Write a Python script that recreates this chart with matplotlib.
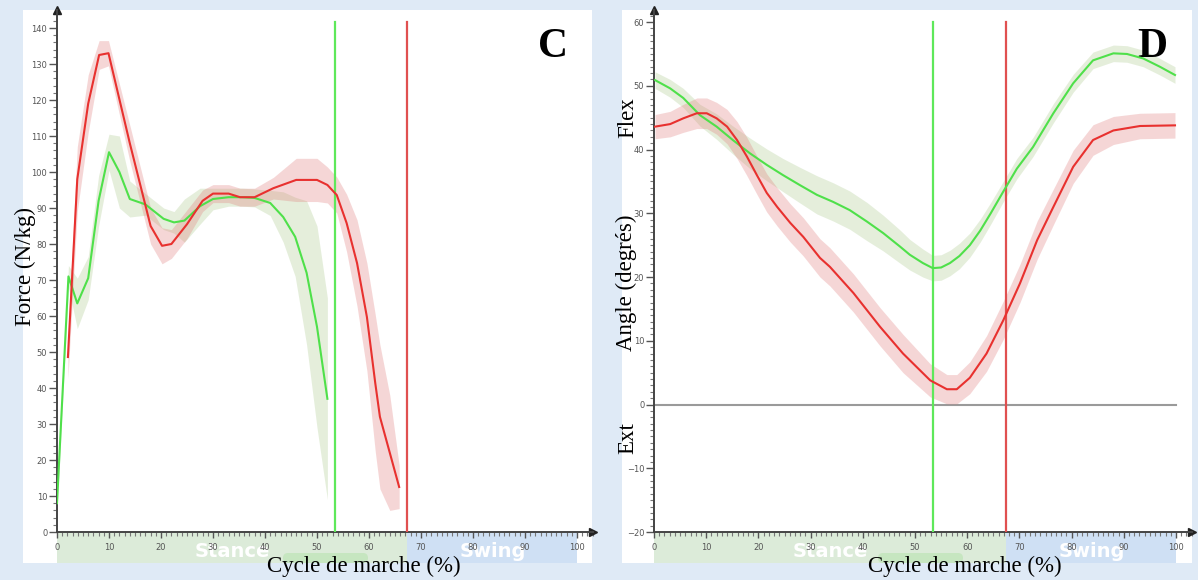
import numpy as np
import matplotlib
matplotlib.use("Agg")
from matplotlib import pyplot as plt
from matplotlib.patches import Rectangle, FancyBboxPatch
from matplotlib.transforms import IdentityTransform
from matplotlib.ticker import MultipleLocator

# Panel C - ground reaction force (N/kg), % of gait cycle
force_green_x = [0, 2.2, 3.9, 6, 8, 10, 12, 14, 17, 20.5, 22.5, 24.5, 27.5, 30, 33, 35.6, 38, 41, 43.5, 45.8, 48, 50, 52]
force_green_m = [8, 71, 63.5, 70.5, 92, 105.5, 100, 92.5, 91, 87, 86, 86.5, 90.5, 92.5, 93, 93, 92.8, 91.4, 87.5, 82, 72, 57, 37]
force_green_sd = [2, 3, 7, 6, 7, 5, 10, 5, 3, 3, 3, 6, 5, 3, 2.5, 2.5, 2.5, 3.5, 7, 11, 20, 28, 28]

force_red_x = [2.1, 3.9, 6, 8.1, 9.9, 14, 18, 20.2, 22, 25, 28, 30, 33, 35.2, 38, 41.6, 46, 50, 52, 53.8, 55.7, 57.7, 59.6, 61.2, 62.1, 64, 65.8]
force_red_m = [48.6, 98, 119, 132.5, 133, 108, 85, 79.5, 80, 85.5, 92, 94, 94, 93, 93, 95.5, 97.8, 97.8, 96.4, 93.6, 85.8, 74.7, 59.7, 41.4, 32, 22, 12.5]
force_red_sd = [6, 9, 8, 4, 3.5, 5, 5, 5, 4, 4, 3, 2.5, 2.5, 2.5, 2.5, 3, 6, 6, 5, 5, 8, 12, 15, 19, 20, 16, 6]

# Panel D - joint angle (degrees)
angle_green_x = [0.2, 3.1, 5.6, 8.8, 12, 15.1, 18.4, 21.6, 24.7, 28, 31.2, 34.3, 37.5, 40.8, 43.9, 47.1, 49, 51.5,
                 53.4, 55, 56.7, 58.5, 60.5, 62.5, 64.5, 66.9, 69.5, 72.6, 76.5, 80.3, 84.1, 88, 90.6, 93.7, 96.9, 99.8]
angle_green_m = [50.9, 49.6, 48.1, 45.4, 43.6, 41.5, 39.4, 37.6, 36, 34.4, 32.9, 31.8, 30.5, 28.7, 26.9, 24.8, 23.5, 22.2,
                 21.4, 21.5, 22.2, 23.3, 25, 27.3, 30, 33.4, 37, 40.4, 45.7, 50.4, 54, 55.1, 55, 54.3, 53, 51.7]
angle_green_sd = [1.3, 1.4, 1.5, 1.7, 2, 2.2, 2.4, 2.5, 2.6, 2.8, 3, 3, 3, 3, 2.8, 2.6, 2.4, 2.2,
                  2, 2, 2, 2, 1.9, 1.8, 1.7, 1.6, 1.6, 1.5, 1.5, 1.4, 1.3, 1.3, 1.3, 1.3, 1.3, 1.3]

angle_red_x = [0.2, 3.1, 5.6, 8.2, 10.1, 12, 14, 15.9, 17.8, 19.7, 21.6, 23.6, 26.1, 28.6, 31.8, 33.7, 38.2,
               43.3, 47.7, 52.9, 56.1, 58, 60.5, 63.7, 66.9, 70.1, 73.4, 76.5, 80.3, 84.1, 88, 93.1, 99.8]
angle_red_m = [43.6, 44, 44.9, 45.7, 45.7, 44.9, 43.6, 41.5, 38.9, 36, 33.2, 31, 28.5, 26.3, 23, 21.6, 17.5,
               12.2, 8, 3.8, 2.4, 2.4, 4.2, 8, 13.2, 19, 25.8, 31, 37.3, 41.5, 43, 43.7, 43.8]
angle_red_sd = [1.9, 2, 2.2, 2.4, 2.4, 2.5, 2.7, 2.9, 3, 3, 3, 3, 3, 3, 3, 3, 3,
                3, 3, 2.6, 2.3, 2.3, 2.5, 2.8, 3, 3, 3, 2.8, 2.6, 2.4, 2.2, 2, 2]

# toe-off (% cycle) for each group
toe_off_green = 53.5
toe_off_red = 67.3

GREEN = "#4fe04a"
RED = "#e8312f"
GREEN_BAND = "#a9c98a"
RED_BAND = "#e07a7a"
SERIF = ["Liberation Serif", "DejaVu Serif"]

W, H = 1198, 580
fig = plt.figure(figsize=(W / 100, H / 100), dpi=100)
fig.patch.set_facecolor("#dfeaf6")

# white panels
for x0, x1 in [(23, 592), (622, 1192)]:
    fig.patches.append(Rectangle((x0 / W, (H - 563) / H), (x1 - x0) / W, 553 / H,
                                 transform=fig.transFigure, facecolor="white",
                                 edgecolor="none", zorder=-10))

ax1 = fig.add_axes([57 / W, (H - 532) / H, 535.6 / W, 522 / H])
ax2 = fig.add_axes([654 / W, (H - 532) / H, 537.7 / W, 522 / H])


def draw_band(ax, x, m, sd, line_c, band_c):
    x = np.array(x)
    m = np.array(m)
    sd = np.array(sd)
    ax.fill_between(x, m - sd, m + sd, color=band_c, alpha=0.3, lw=0, zorder=2)
    ax.plot(x, m, color=line_c, lw=1.5, zorder=4)


def style_axes(ax, ymin, ymax, ymajor, yminor):
    ax.set_facecolor("none")
    ax.set_xlim(0, 103)
    ax.set_ylim(ymin, ymax)
    for s in ["top", "right"]:
        ax.spines[s].set_visible(False)
    for s in ["left", "bottom"]:
        ax.spines[s].set_color("#444444")
        ax.spines[s].set_linewidth(1.4)
    ax.set_xticks(np.arange(0, 101, 10))
    ax.xaxis.set_minor_locator(MultipleLocator(1))
    ax.set_yticks(np.arange(ymin, ymax - 1, ymajor))
    ax.yaxis.set_minor_locator(MultipleLocator(yminor))
    ax.tick_params(axis="both", which="major", labelsize=6, labelcolor="#555555",
                   color="#555555", length=6, width=1, pad=1)
    ax.tick_params(axis="both", which="minor", color="#777777", length=3, width=0.8)
    ax.tick_params(axis="x", which="major", length=4, pad=4)
    ax.tick_params(axis="x", which="minor", length=3)
    # arrow heads
    ax.plot([0], [1], marker="^", color="#222222", ms=6, transform=ax.transAxes, clip_on=False)
    ax.plot([1], [0], marker=">", color="#222222", ms=6, transform=ax.transAxes, clip_on=False)


def phase_bands(ax, boundary, h, pill_x):
    tr = ax.get_xaxis_transform()
    ax.add_patch(Rectangle((0, -h), boundary, h, transform=tr, facecolor="#dcebd9",
                           edgecolor="none", clip_on=False, zorder=0))
    ax.add_patch(Rectangle((boundary, -h), 100 - boundary, h, transform=tr, facecolor="#cfe0f4",
                           edgecolor="none", clip_on=False, zorder=0))
    # rounded green marker under the axis (pixel coords)
    ax.add_patch(FancyBboxPatch((pill_x, H - 563), 85, 10, transform=IdentityTransform(),
                                boxstyle="round,pad=0,rounding_size=5",
                                facecolor="#c6e6c0", edgecolor="none", clip_on=False, zorder=0.5))
    ax.text(33.8, -0.038, "Stance", transform=tr, ha="center", va="center",
            color="white", fontsize=14, fontweight="bold", zorder=1)
    ax.text(83.8, -0.038, "Swing", transform=tr, ha="center", va="center",
            color="white", fontsize=14, fontweight="bold", zorder=1)


# ---- panel C
style_axes(ax1, 0, 145, 10, 2)
phase_bands(ax1, toe_off_red, 0.0594, 283)
draw_band(ax1, force_green_x, force_green_m, force_green_sd, GREEN, GREEN_BAND)
draw_band(ax1, force_red_x, force_red_m, force_red_sd, RED, RED_BAND)
ax1.axvline(toe_off_green, ymax=0.977, color="#5ee85a", lw=1.6, zorder=3)
ax1.axvline(toe_off_red, ymax=0.977, color="#e05050", lw=1.6, zorder=3)
ax1.text(0.926, 0.929, "C", transform=ax1.transAxes, family=SERIF, fontsize=30,
         fontweight="bold", ha="center", va="center")
fig.text(25 / W, 1 - 267 / H, "Force (N/kg)", family=SERIF, fontsize=16.5, rotation=90,
         ha="center", va="center")
fig.text(364 / W, 1 - 566 / H, "Cycle de marche (%)", family=SERIF, fontsize=16.5,
         ha="center", va="center")

# ---- panel D
style_axes(ax2, -20, 61.9, 10, 1)
phase_bands(ax2, 67.4, 0.0594, 878)
ax2.axhline(0, xmax=100 / 103, color="#9a9a9a", lw=1.5, zorder=1)
draw_band(ax2, angle_green_x, angle_green_m, angle_green_sd, GREEN, GREEN_BAND)
draw_band(ax2, angle_red_x, angle_red_m, angle_red_sd, RED, RED_BAND)
ax2.axvline(toe_off_green, ymax=0.977, color="#5ee85a", lw=1.6, zorder=3)
ax2.axvline(67.4, ymax=0.977, color="#e05050", lw=1.6, zorder=3)
ax2.text(0.926, 0.929, "D", transform=ax2.transAxes, family=SERIF, fontsize=30,
         fontweight="bold", ha="center", va="center")
fig.text(628 / W, 1 - 118 / H, "Flex", family=SERIF, fontsize=16.5, rotation=90,
         ha="center", va="center")
fig.text(626 / W, 1 - 283 / H, "Angle (degrés)", family=SERIF, fontsize=16.5, rotation=90,
         ha="center", va="center")
fig.text(628 / W, 1 - 438 / H, "Ext", family=SERIF, fontsize=16.5, rotation=90,
         ha="center", va="center")
fig.text(965 / W, 1 - 566 / H, "Cycle de marche (%)", family=SERIF, fontsize=16.5,
         ha="center", va="center")

fig.savefig("out.png", dpi=100, facecolor=fig.get_facecolor())
